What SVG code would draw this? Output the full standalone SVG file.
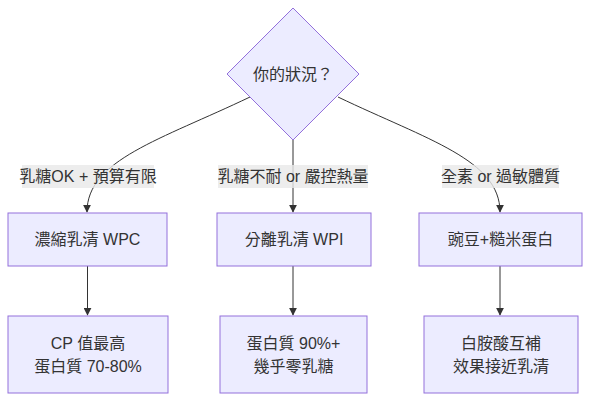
<svg xmlns="http://www.w3.org/2000/svg" width="598" height="406" viewBox="0 0 598 406">
<defs>
<style>
.node{fill:#ECECFF;stroke:#9370DB;stroke-width:1}
.t{font-family:"Liberation Sans","Noto Sans CJK TC",sans-serif;font-size:16px;fill:#333;text-anchor:middle;dominant-baseline:central}
.e{fill:none;stroke:#333;stroke-width:1}
.lbl{fill:#e8e8e8;opacity:0.8}
</style>
<marker id="arr" viewBox="0 0 10 10" refX="9" refY="5" markerWidth="8" markerHeight="8" markerUnits="userSpaceOnUse" orient="auto">
<path d="M0,0 L10,5 L0,10 z" fill="#333"/>
</marker>
</defs>
<rect width="598" height="406" fill="#fff"/>
<g id="connectors">
<path class="e" d="M250,97 C160,140 87,160 87,212" marker-end="url(#arr)"/>
<path class="e" d="M293,140 L293,212" marker-end="url(#arr)"/>
<path class="e" d="M338,97 C428,140 500,160 500,212" marker-end="url(#arr)"/>
<path class="e" d="M87.5,266 L87.5,315" marker-end="url(#arr)"/>
<path class="e" d="M293,266 L293,315" marker-end="url(#arr)"/>
<path class="e" d="M500,266 L500,315" marker-end="url(#arr)"/>
<rect class="lbl" x="22" y="165" width="132" height="23"/>
<text class="t" x="88" y="176.5">乳糖OK + 預算有限</text>
<rect class="lbl" x="218" y="165" width="150" height="23"/>
<text class="t" x="293" y="176.5">乳糖不耐 or 嚴控熱量</text>
<rect class="lbl" x="442" y="165" width="117" height="23"/>
<text class="t" x="500.5" y="176.5">全素 or 過敏體質</text>
</g>
<g id="q">
<polygon class="node" points="293,8 359,74 293,140 227,74"/>
<text class="t" x="293" y="74">你的狀況？</text>
</g>
<g id="wpc">
<rect class="node" x="8" y="213" width="159" height="53"/>
<text class="t" x="87.5" y="239.5">濃縮乳清 WPC</text>
</g>
<g id="wpi">
<rect class="node" x="217" y="213" width="154" height="53"/>
<text class="t" x="294" y="239.5">分離乳清 WPI</text>
</g>
<g id="plant">
<rect class="node" x="419" y="213" width="163" height="53"/>
<text class="t" x="500.5" y="239.5">豌豆+糙米蛋白</text>
</g>
<g id="wpc2">
<rect class="node" x="8" y="316" width="160" height="77"/>
<text class="t" x="88" y="343">CP 值最高</text>
<text class="t" x="88" y="366">蛋白質 70-80%</text>
</g>
<g id="wpi2">
<rect class="node" x="220" y="316" width="147" height="77"/>
<text class="t" x="293.5" y="343">蛋白質 90%+</text>
<text class="t" x="293.5" y="366">幾乎零乳糖</text>
</g>
<g id="plant2">
<rect class="node" x="424" y="316" width="154" height="77"/>
<text class="t" x="501" y="343">白胺酸互補</text>
<text class="t" x="501" y="366">效果接近乳清</text>
</g>
</svg>
